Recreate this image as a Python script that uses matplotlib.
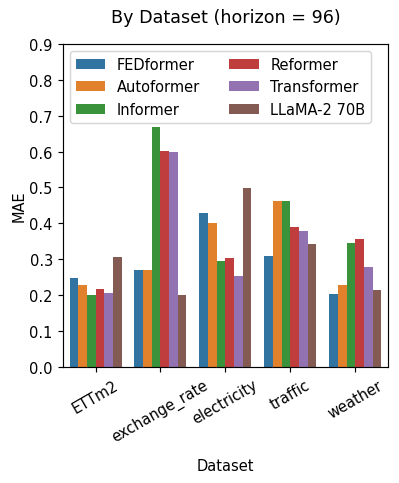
import matplotlib
matplotlib.use("Agg")
import matplotlib.pyplot as plt
import pandas as pd
import seaborn as sns

datasets = ["ETTm2", "exchange_rate", "electricity", "traffic", "weather"]
models = ["FEDformer", "Autoformer", "Informer", "Reformer", "Transformer", "LLaMA-2 70B"]

# MAE per model, in dataset order
fedformer = [0.247, 0.270, 0.430, 0.309, 0.204]
autoformer = [0.229, 0.269, 0.400, 0.463, 0.229]
informer = [0.200, 0.668, 0.294, 0.462, 0.346]
reformer = [0.217, 0.602, 0.304, 0.389, 0.357]
transformer = [0.205, 0.600, 0.254, 0.379, 0.278]
llama = [0.307, 0.199, 0.498, 0.342, 0.214]

series = [fedformer, autoformer, informer, reformer, transformer, llama]
rows = []
for name, vals in zip(models, series):
    for d, v in zip(datasets, vals):
        rows.append({"Dataset": d, "MAE": v, "Model": name})
df = pd.DataFrame(rows)

DPI = 105
fig = plt.figure(figsize=(399 / DPI, 484 / DPI), dpi=DPI)
ax = fig.add_axes([0.158, 0.240, 0.814, 0.667])
sns.barplot(data=df, x="Dataset", y="MAE", hue="Model", hue_order=models,
            order=datasets, ax=ax)
ax.set_ylim(0, 0.9)
ax.set_title("By Dataset (horizon = 96)", pad=15)
ax.set_xlabel("Dataset", labelpad=9)
ax.set_ylabel("MAE", labelpad=2)
plt.setp(ax.get_xticklabels(), rotation=30)
ax.legend(ncol=2, loc="upper left", title=None)

fig.savefig("out.png", dpi=DPI)
